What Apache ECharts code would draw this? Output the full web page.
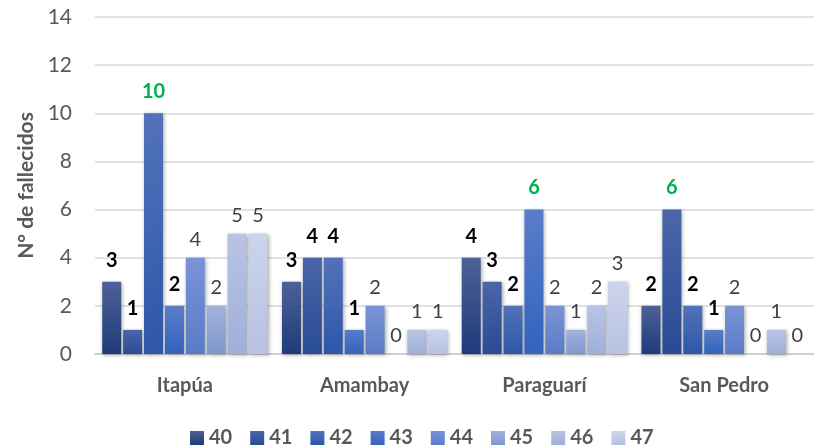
<!DOCTYPE html>
<html>
<head>
<meta charset="utf-8">
<script src="https://cdn.jsdelivr.net/npm/echarts@6/dist/echarts.min.js"></script>
<style>
  html, body { margin: 0; padding: 0; background: #ffffff; }
  #chart { width: 814px; height: 448px; }
</style>
</head>
<body>
<div id="chart"></div>
<script>
// Departamentos (categories) and semana epidemiológica series
const departamentos = ['Itapúa', 'Amambay', 'Paraguarí', 'San Pedro'];
const semanas = ['40', '41', '42', '43', '44', '45', '46', '47'];

// Deaths per department, one array per week
const s40 = [3, 3, 4, 2];
const s41 = [1, 4, 3, 6];
const s42 = [10, 4, 2, 2];
const s43 = [2, 1, 6, 1];
const s44 = [4, 2, 2, 2];
const s45 = [2, 0, 1, 0];
const s46 = [5, 1, 2, 1];
const s47 = [5, 1, 3, 0];
const valores = [s40, s41, s42, s43, s44, s45, s46, s47];

// Y axis ticks
const yTicks = [0, 2, 4, 6, 8, 10, 12, 14];

// Highlighted (green) labels: [series index, department index]
const destacados = [[2, 0], [3, 2], [1, 3]];

// Bar colour ramp: [top, bottom] per week
const colores = [
  ['#4d6196', '#1f3b7a'],
  ['#4b66a8', '#294a95'],
  ['#5272b9', '#2d57a9'],
  ['#5a7dca', '#3263bd'],
  ['#7a93d5', '#5a7cc8'],
  ['#a2b2de', '#8197cd'],
  ['#b9c4e4', '#9fafd8'],
  ['#cdd4ec', '#b7c1e0']
];

const FONT = 'Lato, "Open Sans", sans-serif';
const chart = echarts.init(document.getElementById('chart'));

const series = semanas.map(function (nombre, si) {
  const boldLabel = si < 4;
  return {
    name: nombre,
    type: 'bar',
    barWidth: 19,
    barGap: '10%',
    itemStyle: {
      color: new echarts.graphic.LinearGradient(0, 0, 0, 1, [
        { offset: 0, color: colores[si][0] },
        { offset: 1, color: colores[si][1] }
      ]),
      shadowBlur: 4,
      shadowColor: 'rgba(0,0,0,0.35)',
      shadowOffsetX: 1,
      shadowOffsetY: 1
    },
    label: {
      show: true,
      position: 'top',
      distance: boldLabel ? 11 : 8,
      fontFamily: FONT,
      fontSize: 20,
      fontWeight: boldLabel ? 'bold' : 'normal',
      color: boldLabel ? '#000000' : '#404040'
    },
    data: valores[si].map(function (v, ci) {
      const hl = destacados.some(function (d) { return d[0] === si && d[1] === ci; });
      if (hl) {
        return {
          value: v,
          label: { color: '#00b050', fontWeight: 'bold', distance: 12 }
        };
      }
      return v;
    })
  };
});

chart.setOption({
  animation: false,
  backgroundColor: '#ffffff',
  grid: { left: 95, right: -5, top: 17, bottom: 94, containLabel: false },
  legend: {
    data: semanas,
    bottom: -5,
    left: 185,
    icon: 'rect',
    itemWidth: 14,
    itemHeight: 14,
    itemGap: 18,
    textStyle: { fontFamily: FONT, fontSize: 20, fontWeight: 'bold', color: '#595959' }
  },
  xAxis: {
    type: 'category',
    data: departamentos,
    axisLine: { show: true, lineStyle: { color: '#d0d0d0', width: 2 } },
    axisTick: { show: false },
    axisLabel: {
      margin: 22,
      fontFamily: FONT,
      fontSize: 20,
      fontWeight: 'bold',
      color: '#595959'
    }
  },
  yAxis: {
    type: 'value',
    min: yTicks[0],
    max: yTicks[yTicks.length - 1],
    interval: 2,
    name: 'N° de fallecidos',
    nameLocation: 'middle',
    nameGap: 55,
    nameTextStyle: { fontFamily: FONT, fontSize: 21, fontWeight: 'bold', color: '#595959' },
    axisLine: { show: false },
    axisTick: { show: false },
    splitLine: { lineStyle: { color: '#d9d9d9', width: 1.5 } },
    axisLabel: {
      margin: 23,
      fontFamily: FONT,
      fontSize: 21,
      color: '#595959'
    }
  },
  series: series
});
</script>
</body>
</html>
